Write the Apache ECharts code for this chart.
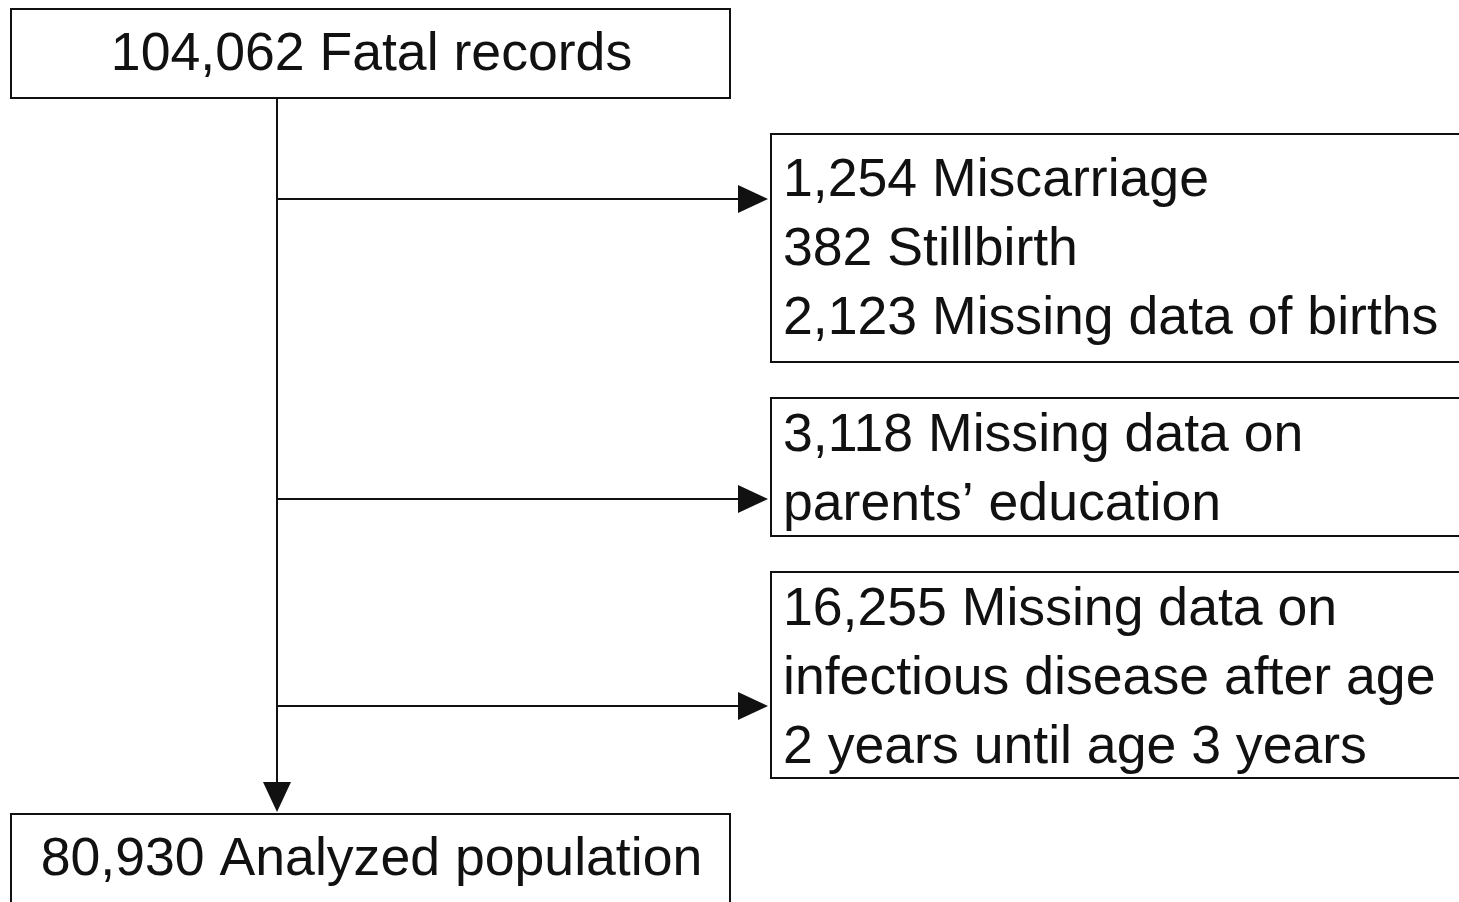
<!DOCTYPE html>
<html>
<head>
<meta charset="utf-8">
<script src="https://cdn.jsdelivr.net/npm/echarts@6/dist/echarts.min.js"></script>
<style>
  html, body { margin: 0; padding: 0; background: #fff; }
  #map { width: 1459px; height: 902px; }
</style>
</head>
<body>
<div id="map"></div>
<script>
// texts of the flow chart
var topLabel = '104,062 Fatal records';
var bottomLabel = '80,930 Analyzed population';
var exclusion1 = ['1,254 Miscarriage', '382 Stillbirth', '2,123 Missing data of births'];
var exclusion2 = ['3,118 Missing data on', 'parents\u2019 education'];
var exclusion3 = ['16,255 Missing data on', 'infectious disease after age', '2 years until age 3 years'];

var myChart = echarts.init(document.getElementById('map'));

var FONT = '"Liberation Sans", Arial, sans-serif';
var FS = 53.6;
var LINE_H = 69;
var INK = '#111';

// boxes: rect [x0, y0, x1, y1], text alignment, y of first line
var boxes = [
	{ rect: [11, 9, 730, 98], align: 'center', y: 55, lines: [topLabel] },
	{ rect: [771, 134, 1475, 362], align: 'left', y: 181, lines: exclusion1 },
	{ rect: [771, 398, 1475, 536], align: 'left', y: 436, lines: exclusion2 },
	{ rect: [771, 572, 1475, 778], align: 'left', y: 610, lines: exclusion3 },
	{ rect: [11, 814, 730, 915], align: 'center', y: 860, lines: [bottomLabel] }
];
// arrows: [x0, y0, x1, y1] (tip at x1, y1)
var arrows = [
	[277, 98, 277, 812],
	[277, 199, 768, 199],
	[277, 499, 768, 499],
	[277, 706, 768, 706]
];

function renderBox(params, api) {
	var b = boxes[params.dataIndex];
	var p0 = api.coord([b.rect[0], b.rect[1]]);
	var p1 = api.coord([b.rect[2], b.rect[3]]);
	var children = [{
		type: 'rect',
		shape: { x: p0[0], y: p0[1], width: p1[0] - p0[0], height: p1[1] - p0[1] },
		style: { fill: '#fff', stroke: INK, lineWidth: 2 }
	}];
	for (var i = 0; i < b.lines.length; i++) {
		var tx = b.align === 'center' ? (p0[0] + Math.min(p1[0], 1459)) / 2 + 1 : api.coord([b.rect[0] + 12, 0])[0];
		var ty = api.coord([0, b.y + i * LINE_H])[1];
		children.push({
			type: 'text',
			style: {
				x: tx, y: ty, text: b.lines[i],
				font: FS + 'px ' + FONT,
				fill: INK,
				textAlign: b.align,
				textVerticalAlign: 'middle'
			}
		});
	}
	return { type: 'group', children: children };
}

function renderArrow(params, api) {
	var a = arrows[params.dataIndex];
	var s = api.coord([a[0], a[1]]);
	var e = api.coord([a[2], a[3]]);
	var L = 30, W = 14;
	var dx = e[0] - s[0], dy = e[1] - s[1];
	var len = Math.sqrt(dx * dx + dy * dy);
	var ux = dx / len, uy = dy / len;
	var bx = e[0] - ux * L, by = e[1] - uy * L;
	return {
		type: 'group',
		children: [{
			type: 'line',
			shape: { x1: s[0], y1: s[1], x2: bx, y2: by },
			style: { stroke: INK, lineWidth: 2 }
		}, {
			type: 'polygon',
			shape: { points: [[e[0], e[1]], [bx - uy * W, by + ux * W], [bx + uy * W, by - ux * W]] },
			style: { fill: INK }
		}]
	};
}

var option = {
	backgroundColor: '#fff',
	animation: false,
	grid: { left: 0, right: 0, top: 0, bottom: 0 },
	xAxis: { type: 'value', min: 0, max: 1459, show: false },
	yAxis: { type: 'value', min: 0, max: 902, inverse: true, show: false },
	series: [{
		type: 'custom',
		renderItem: renderArrow,
		data: arrows,
		silent: true,
		z: 1
	}, {
		type: 'custom',
		renderItem: renderBox,
		data: boxes.map(function(b, i) { return [b.rect[0], b.rect[1], i]; }),
		silent: true,
		z: 2
	}]
};
myChart.setOption(option);
</script>
</body>
</html>
